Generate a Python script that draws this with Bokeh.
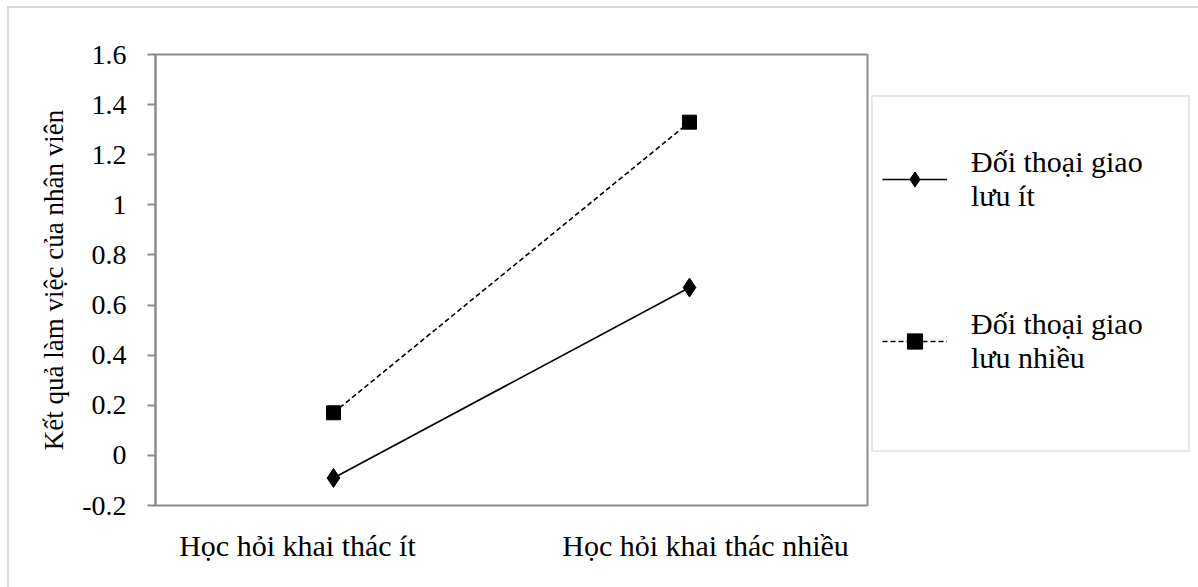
from bokeh.plotting import figure
from bokeh.models import (Range1d, FixedTicker, CustomJSTickFormatter,
                          Legend, LegendItem, LinearAxis, Title)
from bokeh.embed import file_html
from bokeh.resources import INLINE

# ---- data ----
categories = ["Học hỏi khai thác ít", "Học hỏi khai thác nhiều"]
low_dialogue = [-0.09, 0.67]     # Đối thoại giao lưu ít
high_dialogue = [0.17, 1.33]     # Đối thoại giao lưu nhiều
series_labels = ["Đối thoại giao\nlưu ít", "Đối thoại giao\nlưu nhiều"]
y_title = "Kết quả làm việc của nhân viên"
y_ticks = [-0.2, 0, 0.2, 0.4, 0.6, 0.8, 1, 1.2, 1.4, 1.6]

FONT = "Liberation Serif"
GRAY = "#8c8c8c"

# category centres (one slot per category)
x_pos = [i + 0.5 for i in range(len(categories))]

p = figure(x_range=Range1d(0, len(categories)), y_range=Range1d(y_ticks[0], y_ticks[-1]),
           x_axis_location=None,
           frame_width=712, frame_height=451,
           min_border_left=146, min_border_top=46, min_border_right=326, min_border_bottom=84,
           output_backend="svg", toolbar_location=None,
           margin=(6, 0, 0, 7),
           styles={"border-top": "2px solid #dcd8d4", "border-left": "2px solid #dcd8d4"})

p.xgrid.visible = False
p.ygrid.visible = False
p.outline_line_color = GRAY
p.outline_line_width = 2
p.background_fill_color = "white"
p.border_fill_color = "white"

# y axis
p.yaxis.ticker = FixedTicker(ticks=y_ticks)
p.yaxis.formatter = CustomJSTickFormatter(code="""
    if (Math.abs(tick) < 1e-9) return '0';
    return String(Number(tick.toFixed(1)));
""")
p.yaxis.axis_line_color = GRAY
p.yaxis.axis_line_width = 2
p.yaxis.major_tick_line_color = GRAY
p.yaxis.major_tick_line_width = 2
p.yaxis.major_tick_out = 8
p.yaxis.major_tick_in = 0
p.yaxis.minor_tick_line_color = None
p.yaxis.major_label_text_font = FONT
p.yaxis.major_label_text_font_size = "28px"
p.yaxis.major_label_text_color = "black"
p.yaxis.major_label_standoff = 21

# y title (as in the original, slightly above the centre of the axis)
p.add_layout(Title(text=y_title, align="center", offset=14, standoff=22,
                   text_font=FONT, text_font_size="27px", text_font_style="normal",
                   text_color="black"), "left")

# category labels (placed as in the original, a little off the category centres)
p.extra_x_ranges = {"labels": Range1d(0.152, 1.897)}
xlab = LinearAxis(x_range_name="labels",
                  ticker=FixedTicker(ticks=x_pos),
                  major_label_overrides={pos: c for pos, c in zip(x_pos, categories)},
                  axis_line_color=None, major_tick_line_color=None,
                  major_tick_out=0, major_tick_in=0, minor_tick_line_color=None,
                  major_label_text_font=FONT, major_label_text_font_size="30px",
                  major_label_text_color="black", major_label_standoff=23)
p.add_layout(xlab, "below")

# series
l1 = p.line(x_pos, low_dialogue, line_color="black", line_width=1.6)
m1 = p.scatter(x_pos, low_dialogue, marker="diamond", size=19,
               fill_color="black", line_color="black")
l2 = p.line(x_pos, high_dialogue, line_color="black", line_width=1.6, line_dash="5 3")
m2 = p.scatter(x_pos, high_dialogue, marker="square", size=14,
               fill_color="black", line_color="black")

legend = Legend(items=[LegendItem(label=series_labels[0], renderers=[l1, m1]),
                       LegendItem(label=series_labels[1], renderers=[l2, m2])],
                location=(4, 53), orientation="vertical",
                padding=9, spacing=16, margin=0,
                glyph_width=65, glyph_height=38, label_standoff=24,
                label_width=208, label_height=146,
                label_text_font=FONT, label_text_font_size="30px",
                label_text_color="black",
                title=" ", title_location="below", title_standoff=26,
                title_text_font_size="1px",
                border_line_color="#d4d0cc", border_line_width=2,
                background_fill_color="white", background_fill_alpha=1)
p.add_layout(legend, "right")

open("out.html", "w").write(file_html(p, INLINE))
